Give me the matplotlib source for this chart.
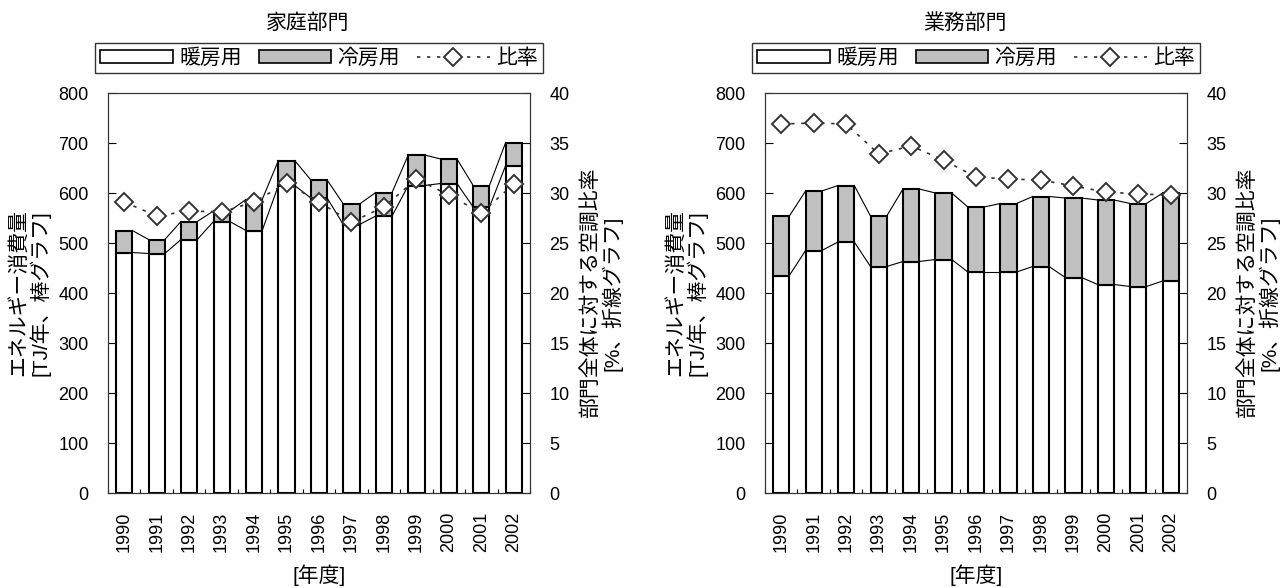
import matplotlib
matplotlib.use("Agg")
import matplotlib.pyplot as plt
from matplotlib.patches import Patch
from matplotlib.lines import Line2D
import numpy as np

plt.rcParams['font.family'] = ['Liberation Sans', 'Noto Sans CJK JP', 'DejaVu Sans']

years = ['1990', '1991', '1992', '1993', '1994', '1995', '1996',
         '1997', '1998', '1999', '2000', '2001', '2002']

# 家庭部門
home_heating = [481, 479, 507, 543, 525, 615, 590, 537, 554, 615, 619, 572, 655]
home_cooling = [44, 28, 36, 21, 62, 50, 36, 41, 47, 61, 49, 43, 46]
home_ratio = [29.1, 27.7, 28.2, 28.1, 29.1, 31.0, 29.1, 27.1, 28.6, 31.4, 29.8, 28.0, 30.9]

# 業務部門
biz_heating = [435, 485, 502, 453, 463, 467, 442, 442, 453, 431, 417, 413, 424]
biz_cooling = [119, 119, 113, 101, 145, 133, 130, 137, 140, 159, 169, 166, 176]
biz_ratio = [36.9, 37.0, 36.9, 33.9, 34.7, 33.3, 31.6, 31.4, 31.3, 30.7, 30.1, 29.9, 29.8]

panels = [
    ('家庭部門', home_heating, home_cooling, home_ratio),
    ('業務部門', biz_heating, biz_cooling, biz_ratio),
]

W, H = 1284, 588
fig = plt.figure(figsize=(W / 100, H / 100), dpi=100)

ax_lefts = [108, 765]
ax_w = 422
ax_top, ax_bot = 93, 493
fs = 13      # numbers
jfs = 15     # japanese text
bar_w = 0.5
gray = '#c0c0c0'

for (title, heating, cooling, ratio), left_px in zip(panels, ax_lefts):
    ax = fig.add_axes([left_px / W, 1 - ax_bot / H, ax_w / W, (ax_bot - ax_top) / H])
    x = np.arange(len(years))
    heating = np.array(heating)
    total = heating + np.array(cooling)

    ax.bar(x, heating, width=bar_w, color='white', edgecolor='black', linewidth=1.5, zorder=2)
    ax.bar(x, cooling, width=bar_w, bottom=heating, color=gray, edgecolor='black',
           linewidth=1.5, zorder=2)

    # series lines between bar tops
    for tops in (heating, total):
        for i in range(len(x) - 1):
            ax.plot([x[i] + bar_w / 2, x[i + 1] - bar_w / 2], [tops[i], tops[i + 1]],
                    color='black', linewidth=0.8, zorder=1)

    ax.set_xlim(-0.5, len(years) - 0.5)
    ax.set_ylim(0, 800)
    ax.set_yticks(range(0, 801, 100))
    ax.set_xticks(x)
    ax.set_xticklabels(years, rotation=90, fontsize=fs)
    ax.set_xticks(np.arange(-0.5, len(years), 1.0), minor=True)
    ax.tick_params(axis='x', which='major', length=0, pad=13.5)
    ax.tick_params(axis='x', which='minor', direction='in', length=3, width=0.8)
    ax.tick_params(axis='y', direction='in', length=6, width=0.8, labelsize=fs, pad=14)
    for sp in ax.spines.values():
        sp.set_linewidth(0.8)
        sp.set_color('#333333')
    ax.set_xlabel('[年度]', fontsize=jfs, labelpad=9)
    ax.set_ylabel('エネルギー消費量\n[TJ/年、棒グラフ]', fontsize=jfs, linespacing=1.05)
    ax.yaxis.set_label_coords(-0.137, 0.5)

    ax2 = ax.twinx()
    ax2.plot(x, ratio, linestyle=(0, (2, 4)), color='#333333', linewidth=1.2,
             marker='D', markersize=9, markerfacecolor='white', markeredgecolor='#333333',
             markeredgewidth=1.4, zorder=3)
    ax2.set_ylim(0, 40)
    ax2.set_yticks(range(0, 41, 5))
    ax2.tick_params(axis='y', direction='in', length=6, width=0.8, labelsize=fs, pad=14)
    for sp in ax2.spines.values():
        sp.set_linewidth(0.8)
        sp.set_color('#333333')
    ax2.set_ylabel('部門全体に対する空調比率\n[%、折線グラフ]', fontsize=jfs, linespacing=1.05,
                   rotation=90)
    ax2.yaxis.set_label_coords(1.118, 0.5)

    handles = [
        Patch(facecolor='white', edgecolor='black', linewidth=1.2),
        Patch(facecolor=gray, edgecolor='black', linewidth=1.2),
        Line2D([], [], linestyle=(0, (2, 4)), color='#333333', linewidth=1.2, marker='D',
               markersize=9, markerfacecolor='white', markeredgecolor='#333333',
               markeredgewidth=1.4),
    ]
    leg = ax.legend(handles, ['暖房用', '冷房用', '比率'], ncol=3, loc='lower left',
                    bbox_to_anchor=(-0.031, 1.05, 1.062, 0.0825), mode='expand',
                    fontsize=jfs, handlelength=3.5, handleheight=0.55, handletextpad=0.3,
                    columnspacing=0.6, borderpad=0.25, fancybox=False, frameon=True,
                    borderaxespad=0)
    leg.get_frame().set_edgecolor('black')
    leg.get_frame().set_linewidth(1.0)

    ax.text(0.474, 1.175, title, transform=ax.transAxes, ha='center', va='center',
            fontsize=jfs)

fig.savefig('out.png', dpi=100)
